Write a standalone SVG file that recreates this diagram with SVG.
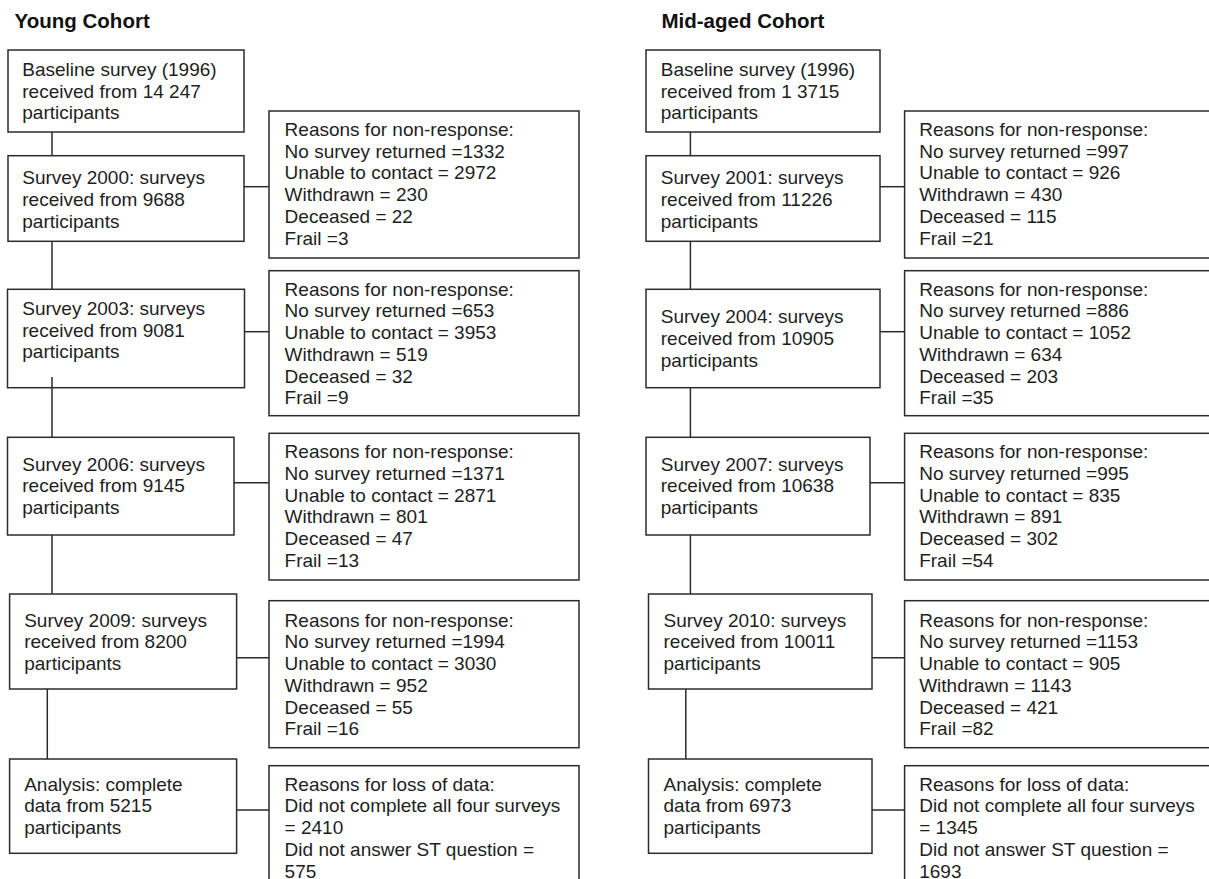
<svg xmlns="http://www.w3.org/2000/svg" width="1209" height="879" viewBox="0 0 1209 879">
<style>
  .box { fill: #ffffff; stroke: #2b2b2b; stroke-width: 1.5; }
  .ln { stroke: #2b2b2b; stroke-width: 1.5; fill: none; }
  text { font-family: "Liberation Sans", Arial, Helvetica, sans-serif; font-size: 19px; fill: #1e1e1e; }
  .title { font-weight: bold; font-size: 20.5px; fill: #111; }
</style>
<rect x="0" y="0" width="1209" height="879" fill="#ffffff"/>

<text class="title" x="14.6" y="28">Young Cohort</text>
<text class="title" x="661.5" y="28">Mid-aged Cohort</text>

<g id="connectors">
  <!-- Young -->
  <line class="ln" x1="52" y1="132" x2="52" y2="155.7"/>
  <line class="ln" x1="52" y1="241.3" x2="52" y2="289.3"/>
  <line class="ln" x1="52" y1="377" x2="52" y2="437.3"/>
  <line class="ln" x1="52" y1="535" x2="52" y2="594"/>
  <line class="ln" x1="47.3" y1="689" x2="47.3" y2="759"/>
  <line class="ln" x1="244" y1="186.7" x2="269" y2="186.7"/>
  <line class="ln" x1="244.5" y1="331.7" x2="269" y2="331.7"/>
  <line class="ln" x1="234" y1="482.7" x2="269" y2="482.7"/>
  <line class="ln" x1="236.6" y1="657.7" x2="269" y2="657.7"/>
  <line class="ln" x1="236.6" y1="810" x2="269" y2="810"/>
  <!-- Mid-aged -->
  <line class="ln" x1="690.4" y1="132" x2="690.4" y2="155.7"/>
  <line class="ln" x1="690.4" y1="241.3" x2="690.4" y2="289.3"/>
  <line class="ln" x1="690.4" y1="387.7" x2="690.4" y2="437.3"/>
  <line class="ln" x1="690.4" y1="535" x2="690.4" y2="594"/>
  <line class="ln" x1="685.8" y1="689" x2="685.8" y2="759"/>
  <line class="ln" x1="880" y1="186.7" x2="904.6" y2="186.7"/>
  <line class="ln" x1="880" y1="331.7" x2="904.6" y2="331.7"/>
  <line class="ln" x1="870" y1="482.7" x2="904.6" y2="482.7"/>
  <line class="ln" x1="872" y1="657.7" x2="904.6" y2="657.7"/>
  <line class="ln" x1="872" y1="810" x2="904.6" y2="810"/>
</g>

<!-- Young cohort nodes -->
<g id="y-base">
  <rect class="box" x="8" y="50" width="236" height="82"/>
  <text x="22.3" y="76">Baseline survey (1996)</text>
  <text x="22.3" y="97.7">received from 14 247</text>
  <text x="22.3" y="119.4">participants</text>
</g>
<g id="y-s2000">
  <rect class="box" x="8" y="155.7" width="236" height="85.6"/>
  <text x="22.3" y="184.3">Survey 2000: surveys</text>
  <text x="22.3" y="206">received from 9688</text>
  <text x="22.3" y="227.7">participants</text>
</g>
<g id="y-r2000">
  <rect class="box" x="269" y="111" width="310" height="147"/>
  <text x="284.6" y="136">Reasons for non-response:</text>
  <text x="284.6" y="157.7">No survey returned =1332</text>
  <text x="284.6" y="179.4">Unable to contact = 2972</text>
  <text x="284.6" y="201.1">Withdrawn = 230</text>
  <text x="284.6" y="222.8">Deceased = 22</text>
  <text x="284.6" y="244.5">Frail =3</text>
</g>
<g id="y-s2003">
  <rect class="box" x="7.5" y="289.3" width="237" height="98.4"/>
  <text x="22.3" y="315">Survey 2003: surveys</text>
  <text x="22.3" y="336.7">received from 9081</text>
  <text x="22.3" y="358.4">participants</text>
</g>
<line class="ln" x1="52" y1="377" x2="52" y2="387.7"/>
<g id="y-r2003">
  <rect class="box" x="269" y="270.7" width="310" height="145"/>
  <text x="284.6" y="295.7">Reasons for non-response:</text>
  <text x="284.6" y="317.4">No survey returned =653</text>
  <text x="284.6" y="339.1">Unable to contact = 3953</text>
  <text x="284.6" y="360.8">Withdrawn = 519</text>
  <text x="284.6" y="382.5">Deceased = 32</text>
  <text x="284.6" y="404.2">Frail =9</text>
</g>
<g id="y-s2006">
  <rect class="box" x="7.5" y="437.3" width="226.5" height="97.7"/>
  <text x="22.3" y="470.7">Survey 2006: surveys</text>
  <text x="22.3" y="492.4">received from 9145</text>
  <text x="22.3" y="514.1">participants</text>
</g>
<g id="y-r2006">
  <rect class="box" x="269" y="433.3" width="310" height="146.7"/>
  <text x="284.6" y="458.3">Reasons for non-response:</text>
  <text x="284.6" y="480">No survey returned =1371</text>
  <text x="284.6" y="501.7">Unable to contact = 2871</text>
  <text x="284.6" y="523.4">Withdrawn = 801</text>
  <text x="284.6" y="545.1">Deceased = 47</text>
  <text x="284.6" y="566.8">Frail =13</text>
</g>
<g id="y-s2009">
  <rect class="box" x="9.6" y="594" width="227" height="95"/>
  <text x="24.2" y="626.7">Survey 2009: surveys</text>
  <text x="24.2" y="648.4">received from 8200</text>
  <text x="24.2" y="670.1">participants</text>
</g>
<g id="y-r2009">
  <rect class="box" x="269" y="600.7" width="310" height="147"/>
  <text x="284.6" y="626.7">Reasons for non-response:</text>
  <text x="284.6" y="648.4">No survey returned =1994</text>
  <text x="284.6" y="670.1">Unable to contact = 3030</text>
  <text x="284.6" y="691.8">Withdrawn = 952</text>
  <text x="284.6" y="713.5">Deceased = 55</text>
  <text x="284.6" y="735.2">Frail =16</text>
</g>
<g id="y-analysis">
  <rect class="box" x="9.6" y="759" width="227" height="94.3"/>
  <text x="24.2" y="790.7">Analysis: complete</text>
  <text x="24.2" y="812.4">data from 5215</text>
  <text x="24.2" y="834.1">participants</text>
</g>
<g id="y-loss">
  <rect class="box" x="269" y="765.7" width="310" height="140"/>
  <text x="284.6" y="790.7">Reasons for loss of data:</text>
  <text x="284.6" y="812.4">Did not complete all four surveys</text>
  <text x="284.6" y="834.1">= 2410</text>
  <text x="284.6" y="855.8">Did not answer ST question =</text>
  <text x="284.6" y="877.5">575</text>
</g>

<!-- Mid-aged cohort nodes -->
<g id="m-base">
  <rect class="box" x="646" y="50" width="234" height="82"/>
  <text x="660.8" y="76">Baseline survey (1996)</text>
  <text x="660.8" y="97.7">received from 1 3715</text>
  <text x="660.8" y="119.4">participants</text>
</g>
<g id="m-s2001">
  <rect class="box" x="646" y="155.7" width="234" height="85.6"/>
  <text x="660.8" y="184.3">Survey 2001: surveys</text>
  <text x="660.8" y="206">received from 11226</text>
  <text x="660.8" y="227.7">participants</text>
</g>
<g id="m-r2001">
  <rect class="box" x="904.6" y="111" width="320" height="147"/>
  <text x="919.2" y="136">Reasons for non-response:</text>
  <text x="919.2" y="157.7">No survey returned =997</text>
  <text x="919.2" y="179.4">Unable to contact = 926</text>
  <text x="919.2" y="201.1">Withdrawn = 430</text>
  <text x="919.2" y="222.8">Deceased = 115</text>
  <text x="919.2" y="244.5">Frail =21</text>
</g>
<g id="m-s2004">
  <rect class="box" x="646" y="289.3" width="234" height="98.4"/>
  <text x="660.8" y="323.3">Survey 2004: surveys</text>
  <text x="660.8" y="345">received from 10905</text>
  <text x="660.8" y="366.7">participants</text>
</g>
<g id="m-r2004">
  <rect class="box" x="904.6" y="270.7" width="320" height="145"/>
  <text x="919.2" y="295.7">Reasons for non-response:</text>
  <text x="919.2" y="317.4">No survey returned =886</text>
  <text x="919.2" y="339.1">Unable to contact = 1052</text>
  <text x="919.2" y="360.8">Withdrawn = 634</text>
  <text x="919.2" y="382.5">Deceased = 203</text>
  <text x="919.2" y="404.2">Frail =35</text>
</g>
<g id="m-s2007">
  <rect class="box" x="646" y="437.3" width="224" height="97.7"/>
  <text x="660.8" y="470.7">Survey 2007: surveys</text>
  <text x="660.8" y="492.4">received from 10638</text>
  <text x="660.8" y="514.1">participants</text>
</g>
<g id="m-r2007">
  <rect class="box" x="904.6" y="433.3" width="320" height="146.7"/>
  <text x="919.2" y="458.3">Reasons for non-response:</text>
  <text x="919.2" y="480">No survey returned =995</text>
  <text x="919.2" y="501.7">Unable to contact = 835</text>
  <text x="919.2" y="523.4">Withdrawn = 891</text>
  <text x="919.2" y="545.1">Deceased = 302</text>
  <text x="919.2" y="566.8">Frail =54</text>
</g>
<g id="m-s2010">
  <rect class="box" x="648.5" y="594" width="223.5" height="95"/>
  <text x="663.5" y="626.7">Survey 2010: surveys</text>
  <text x="663.5" y="648.4">received from 10011</text>
  <text x="663.5" y="670.1">participants</text>
</g>
<g id="m-r2010">
  <rect class="box" x="904.6" y="600.7" width="320" height="147"/>
  <text x="919.2" y="626.7">Reasons for non-response:</text>
  <text x="919.2" y="648.4">No survey returned =1153</text>
  <text x="919.2" y="670.1">Unable to contact = 905</text>
  <text x="919.2" y="691.8">Withdrawn = 1143</text>
  <text x="919.2" y="713.5">Deceased = 421</text>
  <text x="919.2" y="735.2">Frail =82</text>
</g>
<g id="m-analysis">
  <rect class="box" x="648.5" y="759" width="223.5" height="94.3"/>
  <text x="663.5" y="790.7">Analysis: complete</text>
  <text x="663.5" y="812.4">data from 6973</text>
  <text x="663.5" y="834.1">participants</text>
</g>
<g id="m-loss">
  <rect class="box" x="904.6" y="765.7" width="320" height="140"/>
  <text x="919.2" y="790.7">Reasons for loss of data:</text>
  <text x="919.2" y="812.4">Did not complete all four surveys</text>
  <text x="919.2" y="834.1">= 1345</text>
  <text x="919.2" y="855.8">Did not answer ST question =</text>
  <text x="919.2" y="877.5">1693</text>
</g>
</svg>
